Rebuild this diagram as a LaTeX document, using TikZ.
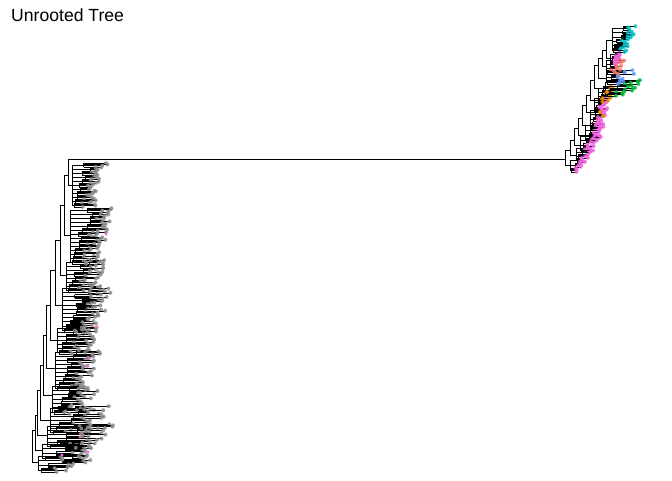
\documentclass[tikz,border=0pt]{standalone}
\usepackage{fontspec}
\setmainfont{Liberation Sans}
\usetikzlibrary{positioning}
\definecolor{tipgrey}{RGB}{140,140,140}
\definecolor{tippink}{HTML}{F564E3}
\definecolor{tipteal}{HTML}{00BFC4}
\definecolor{tipsalmon}{HTML}{F8766D}
\definecolor{tipgreen}{HTML}{00BA38}
\definecolor{tipblue}{HTML}{619CFF}
\definecolor{tiporange}{HTML}{E08B00}
\tikzset{
  branch/.style  = {line width=0.8pt, line cap=rect},
  stem/.style    = {line width=0.5pt},
  twig/.style    = {line width=0.45pt},
  heading/.style = {font=\fontsize{17.6}{21}\selectfont, inner sep=0pt},
}
% one side clade: x, top y, bottom y, reach of tips, tip colour
\newcommand\subclade[5]{%
  \draw[branch] (#1,#2) -- (#1,#3);
  \pgfmathtruncatemacro\ntw{max(2,(#3-#2)/4)}
  \foreach \k in {0,...,\ntw}{%
    \pgfmathsetmacro\ty{#2+\k*(#3-#2)/\ntw}
    \pgfmathsetmacro\tx{#1+(#4-#1)*(0.05+0.6*(1-\k/\ntw)*(0.4+0.6*rnd))}
    \draw[stem] (#1,\ty) -- (\tx,\ty) (\tx,\ty-1.8) -- (\tx,\ty+1.8);
    \foreach \j in {-1.8,-0.6,0.6,1.8}{%
      \pgfmathsetmacro\te{\tx+(#4-\tx)*(0.3+0.7*rnd)*(1-0.35*\k/\ntw)}
      \draw[twig] (\tx,\ty+\j) -- (\te,\ty+\j);
      \fill[#5, opacity=0.85] (\te,\ty+\j) circle[radius=2pt];
    }
  }
}

\begin{document}
\begin{tikzpicture}[x=1pt,y=-1pt]
  \useasboundingbox (0,0) rectangle (672,480);
  \pgfmathsetseed{7}
  \node[heading, anchor=base west] (title) at (11,21) {Unrooted Tree};

  % left part of the tree
  \foreach \i/\bx/\bt/\bs/\nx/\sx/\sa/\sb/\sr in {
      0/32/430/462/35/38/456/470/95,   1/35/415/450/37/42/444/458/100,
      2/37/390/435/40/47/426/446/114,  3/40/365/420/43/50/408/432/110,
      4/43/335/395/46/52/386/412/100,  5/46/305/368/50/55/352/388/102,
      6/50/270/340/55/57/328/352/100,  7/55/240/305/60/62/288/330/112,
      8/60/205/275/64/66/262/290/106,  9/64/175/235/68/70/210/262/112,
      10/68/159/185/68/72/165/205/108}{
    \coordinate (L\i) at (\bx,\bt);
    \draw[branch] (\nx,\bt) -- (\bx,\bt) -- (\bx,\bs) -- (\sx,\bs);
    \subclade{\sx}{\sa}{\sb}{\sr}{tipgrey}
  }

  % right part of the tree
  \foreach \i/\bx/\bt/\bs/\nx/\sx/\sa/\sb/\sr/\tc in {
      0/565/150/165/570/570/160/170/585/tippink,
      1/570/140/155/574/576/148/160/592/tippink,
      2/574/128/145/578/580/136/150/600/tippink,
      3/578/118/135/582/585/125/140/605/tippink,
      4/582/105/125/586/590/110/128/608/tippink,
      5/586/95/112/590/594/98/112/610/tippink,
      6/590/80/100/594/598/88/100/614/tiporange,
      7/594/65/88/598/605/82/94/640/tipgreen,
      8/598/58/78/602/606/72/82/634/tipblue,
      9/602/50/66/606/606/60/72/625/tipsalmon,
      10/606/40/58/612/610/54/62/620/tippink}{
    \coordinate (R\i) at (\bx,159);
    \draw[branch] (\bx,\bt) -- (\nx,\bt) (\bx,\bt) -- (\bx,\bs) -- (\sx,\bs);
    \subclade{\sx}{\sa}{\sb}{\sr}{\tc}
  }
  \subclade{612}{28}{50}{636}{tipteal}

  % long branch between the two parts
  \draw[branch] (L10) -- (R0);

  % odd coloured tips
  \foreach \p in {(90,358),(86,366),(88,452),(80,437),(106,234),(62,455),(96,327)}
    \fill[tippink] \p circle[radius=1.6pt];
  \foreach \p in {(600,112),(603,116),(607,92)}
    \fill[tiporange] \p circle[radius=2pt];
\end{tikzpicture}
\end{document}
